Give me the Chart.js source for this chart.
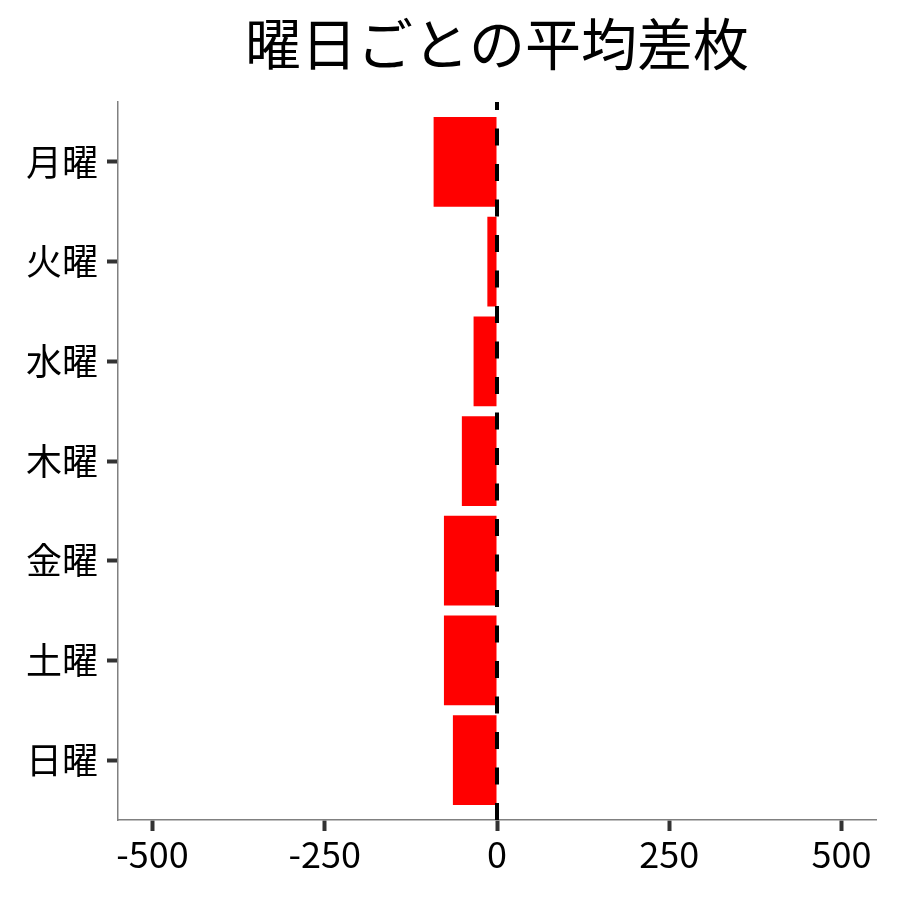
<!DOCTYPE html>
<html lang="ja">
<head>
<meta charset="utf-8" />
<title>曜日ごとの平均差枚</title>
<style>
  html, body { margin: 0; padding: 0; background: #fff; }
  #chart { display: block; }
</style>
</head>
<body>
<canvas id="chart" width="900" height="900"></canvas>
<script src="https://cdn.jsdelivr.net/npm/chart.js"></script>
<script>
    // data
    const days = ['月曜', '火曜', '水曜', '木曜', '金曜', '土曜', '日曜'];
    const avgDiff = [-92, -14, -34, -51, -77, -77, -64];
    const xTicks = [-500, -250, 0, 250, 500];
    const chartTitle = '曜日ごとの平均差枚';

    const FONT = "'Noto Sans CJK JP', 'Noto Sans', sans-serif";

    // title centred over the plot panel, like ggplot's hjust = 0.5
    const panelTitle = {
        id: 'panelTitle',
        afterDraw(chart) {
            const ctx = chart.ctx;
            const area = chart.chartArea;
            ctx.save();
            ctx.fillStyle = '#000';
            ctx.font = '56px ' + FONT;
            ctx.textAlign = 'center';
            ctx.textBaseline = 'middle';
            ctx.fillText(chartTitle, (area.left + area.right) / 2, 44);
            ctx.restore();
        }
    };

    // dashed reference line at x = 0
    const zeroLine = {
        id: 'zeroLine',
        afterDatasetsDraw(chart) {
            const ctx = chart.ctx;
            const area = chart.chartArea;
            const x = chart.scales.x.getPixelForValue(0);
            ctx.save();
            ctx.strokeStyle = '#000';
            ctx.lineWidth = 4;
            ctx.setLineDash([17, 18.5]);
            ctx.beginPath();
            ctx.moveTo(x, area.bottom);
            ctx.lineTo(x, area.top);
            ctx.stroke();
            ctx.restore();
        }
    };

    const tickGrid = {
        offset: false,
        drawOnChartArea: false,
        drawTicks: true,
        tickLength: 11,
        tickWidth: 4,
        color: '#333333',
        tickColor: '#333333'
    };

    const ctx = document.getElementById('chart').getContext('2d');
    new Chart(ctx, {
        type: 'bar',
        data: {
            datasets: [{
                data: avgDiff.map((v, i) => ({ x: v, y: i })),
                backgroundColor: '#ff0000',
                borderWidth: 0,
                categoryPercentage: 0.9,
                barPercentage: 1.0
            }]
        },
        options: {
            indexAxis: 'y',
            responsive: false,
            devicePixelRatio: 1,
            animation: false,
            layout: { padding: { top: 102, right: 24, left: 0, bottom: 0 } },
            plugins: {
                legend: { display: false },
                tooltip: { enabled: false },
                title: { display: false }
            },
            scales: {
                x: {
                    type: 'linear',
                    min: -550,
                    max: 550,
                    offset: false,
                    afterBuildTicks: s => { s.ticks = xTicks.map(v => ({ value: v })); },
                    afterFit: s => { s.height = 80; },
                    ticks: {
                        color: '#000',
                        font: { family: FONT, size: 36 },
                        padding: 2,
                        maxRotation: 0
                    },
                    grid: tickGrid,
                    border: { display: true, color: '#808080', width: 1.5 }
                },
                y: {
                    type: 'linear',
                    reverse: true,
                    offset: false,
                    min: -0.6,
                    max: days.length - 0.4,
                    afterBuildTicks: s => { s.ticks = days.map((d, i) => ({ value: i })); },
                    afterFit: s => { s.width = 118; },
                    ticks: {
                        color: '#000',
                        font: { family: FONT, size: 36 },
                        padding: 9,
                        callback: v => days[v]
                    },
                    grid: tickGrid,
                    border: { display: true, color: '#808080', width: 1.5 }
                }
            }
        },
        plugins: [panelTitle, zeroLine]
    });
</script>
</body>
</html>
